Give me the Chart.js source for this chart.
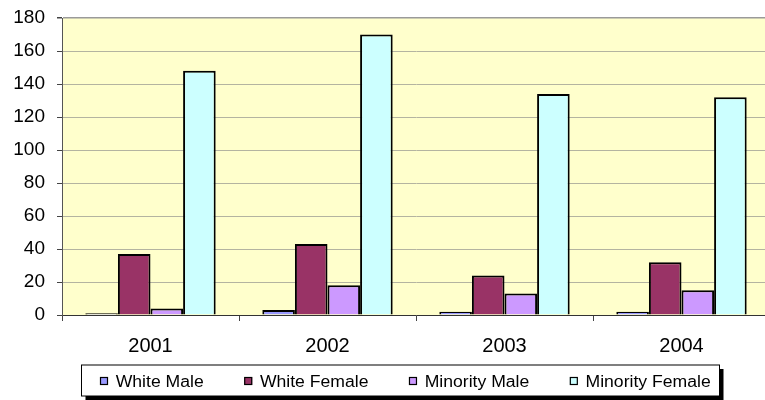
<!DOCTYPE html>
<html><head><meta charset="utf-8">
<script src="https://cdn.jsdelivr.net/npm/chart.js@4/dist/chart.umd.min.js"></script>
<style>html,body{margin:0;padding:0;overflow:hidden;background:#fff}#wrap{width:770px;height:400px}</style>
</head><body><div id="wrap"><canvas id="c" width="770" height="400"></canvas></div>
<script>
const categories = ['2001', '2002', '2003', '2004'];
const seriesNames = ['White Male', 'White Female', 'Minority Male', 'Minority Female'];
const whiteMale = [1, 3, 2, 2];
const whiteFemale = [37, 43, 24, 32];
const minorityMale = [4, 18, 13, 15];
const minorityFemale = [148, 170, 134, 132];
const yTickValues = [0, 20, 40, 60, 80, 100, 120, 140, 160, 180];
const seriesColors = ['#9999FF', '#993366', '#CC99FF', '#CCFFFF'];

const FONT = "'Liberation Sans', Arial, sans-serif";

const plotBg = {
  id: 'plotBg',
  beforeDraw(chart) {
    const {ctx, chartArea: a} = chart;
    ctx.save();
    ctx.fillStyle = '#FFFFCC';
    ctx.fillRect(a.left, a.top, a.right - a.left, a.bottom - a.top);
    ctx.restore();
  }
};

const boxedLegend = {
  id: 'boxedLegend',
  afterDraw(chart) {
    const ctx = chart.ctx;
    const fx = 81.5, fy = 365, fw = 638, fh = 31;
    ctx.save();
    ctx.fillStyle = '#000';
    ctx.fillRect(fx + 4, fy + 4, fw, fh);
    ctx.fillStyle = '#fff';
    ctx.fillRect(fx, fy, fw, fh);
    ctx.strokeStyle = '#000';
    ctx.lineWidth = 1;
    ctx.strokeRect(fx, fy, fw, fh);
    ctx.font = '16px ' + FONT;
    const sx = 1.1;
    const items = chart.data.datasets.map(d => ({label: d.label, color: d.backgroundColor, w: ctx.measureText(d.label).width * sx}));
    const markerGap = 15.7;
    const startX = 100, endX = 710.7;
    const total = items.reduce((s, it) => s + markerGap + it.w, 0);
    const gap = (endX - startX - total) / (items.length - 1);
    let x = startX;
    items.forEach(it => {
      ctx.fillStyle = it.color;
      ctx.fillRect(x, 377, 8, 8);
      ctx.strokeStyle = '#000';
      ctx.lineWidth = 1.2;
      ctx.strokeRect(x + 0.5, 377.5, 7, 7);
      ctx.save();
      ctx.translate(x + markerGap, 387);
      ctx.scale(sx, 1);
      ctx.fillStyle = '#000';
      ctx.textBaseline = 'alphabetic';
      ctx.textAlign = 'left';
      ctx.fillText(it.label, 0, 0);
      ctx.restore();
      x += markerGap + it.w + gap;
    });
    ctx.restore();
  }
};

const seriesData = [whiteMale, whiteFemale, minorityMale, minorityFemale];

new Chart(document.getElementById('c'), {
  type: 'bar',
  data: {
    labels: categories,
    datasets: seriesNames.map((name, i) => ({
      label: name,
      data: seriesData[i],
      backgroundColor: seriesColors[i],
      borderColor: '#000',
      borderWidth: 2,
      categoryPercentage: 0.7365,
      barPercentage: 1.0
    }))
  },
  options: {
    responsive: false,
    animation: false,
    devicePixelRatio: 1,
    layout: {padding: {top: 18, right: 0, bottom: 0, left: 0}},
    plugins: {legend: {display: false}, tooltip: {enabled: false}},
    scales: {
      x: {
        afterFit(s) { s.height = 85; s.paddingLeft = 0; s.paddingRight = 0; },
        grid: {offset: true, drawOnChartArea: false, tickLength: 6, color: '#444'},
        border: {color: '#333', width: 1},
        ticks: {color: '#000', font: {family: FONT, size: 20}, padding: 13}
      },
      y: {
        min: 0, max: 180,
        afterFit(s) { s.width = 62; s.paddingTop = 0; s.paddingBottom = 0; },
        afterBuildTicks(s) { s.ticks = yTickValues.map(v => ({value: v})); },
        grid: {
          color: c => (c.tick && c.tick.value === 180) ? '#9a9a9a' : '#b4b4a0',
          lineWidth: c => (c.tick && c.tick.value === 180) ? 1.5 : 1,
          tickLength: 5, tickColor: '#444'
        },
        border: {color: '#555', width: 1},
        ticks: {color: '#000', font: {family: FONT, size: 19}, padding: 12}
      }
    }
  },
  plugins: [plotBg, boxedLegend]
});
</script>
</body></html>
